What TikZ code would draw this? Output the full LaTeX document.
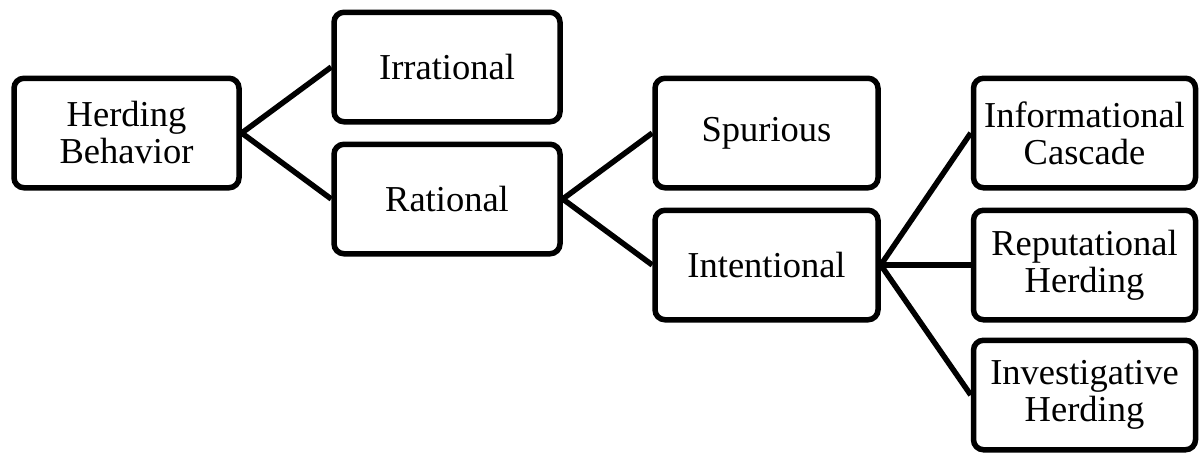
\documentclass[tikz,border=0pt]{standalone}
\usepackage{fontspec}
\setmainfont{Liberation Serif}
\begin{document}
\begin{tikzpicture}[x=1pt,y=-1pt,
  box/.style={draw, line width=5.5pt, rounded corners=10pt, align=center,
    minimum width=222pt, minimum height=109.5pt, inner sep=2pt,
    font=\fontsize{36.5}{37}\selectfont},
  conn/.style={line width=5.5pt}]
\useasboundingbox (0,0) rectangle (1202,453);
\node[box, minimum width=225pt] (herd) at (126.5,133) {Herding\\Behavior};
\node[box, minimum width=226pt] (irr) at (447,67) {Irrational};
\node[box, minimum width=226pt] (rat) at (447,199) {Rational};
\node[box, minimum width=223pt] (spu) at (766.5,133) {Spurious};
\node[box, minimum width=223pt] (int) at (766.5,265) {Intentional};
\node[box] (inf) at (1084.5,133) {Informational\\Cascade};
\node[box] (rep) at (1084.5,265) {Reputational\\Herding};
\node[box] (inv) at (1084.5,395) {Investigative\\Herding};
\draw[conn] (herd.east) -- (irr.west);
\draw[conn] (herd.east) -- (rat.west);
\draw[conn] (rat.east) -- (spu.west);
\draw[conn] (rat.east) -- (int.west);
\draw[conn] (int.east) -- (inf.west);
\draw[conn] (int.east) -- (rep.west);
\draw[conn] (int.east) -- (inv.west);
\end{tikzpicture}
\end{document}
